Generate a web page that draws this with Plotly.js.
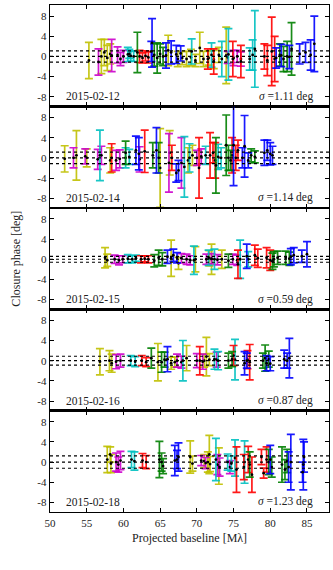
<!DOCTYPE html>
<html><head><meta charset="utf-8">
<script src="https://cdn.plot.ly/plotly-3.0.1.min.js"></script>
<style>html,body{margin:0;padding:0;background:#fff}#chart{width:333px;height:570px}</style>
</head><body><div id="chart"></div>
<script>
// Panel labels and scatter (sigma) of the closure phases
const DATES = ["2015-02-12","2015-02-14","2015-02-15","2015-02-16","2015-02-18"];
const SIGMA = [1.11, 1.14, 0.59, 0.87, 1.23];
const XTICKS = [50,55,60,65,70,75,80,85];
const YTICKS = [-8,-4,0,4,8];
const COLOR_CODES = ["Y","M","C","R","G","B"];

// ---- 2015-02-12 ----
const X1 = [55.3,57.0,57.4,57.8,58.2,66.1,67.4,68.0,68.6,69.2,69.8,70.4,70.9,71.6,72.3,73.0,74.0,
  56.6,58.4,59.2,59.6,60.0,74.2,75.0,75.5,76.0,
  60.6,60.8,61.0,61.4,69.3,72.0,73.4,74.3,77.2,77.6,77.9,
  62.2,62.6,63.0,63.4,71.5,72.3,74.9,76.0,79.2,79.6,80.2,80.6,
  61.9,64.2,64.6,65.0,65.4,81.3,81.8,82.3,82.9,
  63.8,63.9,65.8,66.5,67.2,67.8,80.8,81.5,82.6,84.0,84.8,85.5,86.0];
const Y1 = [-0.8,0.0,0.8,-0.3,0.5,1.2,-0.5,-0.3,-0.5,-0.2,-0.8,1.7,-0.5,-0.3,-0.6,0.3,0.2,
  -1.1,0.2,0.3,-0.5,0.0,-0.2,-0.3,0.0,-0.5,
  0.4,0.5,0.1,0.0,1.0,0.3,-0.5,0.4,-0.5,0.3,1.5,
  0.0,-0.3,0.1,-0.2,-0.5,-1.0,-0.5,-1.0,0.0,-0.8,1.0,-0.5,
  0.8,0.3,-0.3,0.5,0.0,0.3,-0.5,0.0,1.5,
  1.0,2.7,0.2,0.8,0.4,0.6,-0.3,0.2,-0.1,0.5,0.8,0.3,2.5];
const E1 = [3.6,3.4,2.6,2.5,2.0,3.0,1.5,1.3,1.5,1.6,1.2,3.1,1.5,1.4,1.8,1.5,5.6,
  2.6,3.2,1.6,1.3,1.2,1.2,1.5,1.2,1.4,
  1.4,0.9,1.0,1.0,2.5,2.4,3.5,5.1,2.2,3.0,7.6,
  1.2,1.0,1.0,1.1,2.0,2.5,3.5,3.2,2.5,3.0,6.8,4.5,
  4.0,2.2,3.0,2.0,1.8,2.2,2.5,3.0,5.2,
  2.0,4.8,2.5,2.3,1.8,1.5,2.0,2.2,2.3,2.0,2.0,3.0,5.5];
const C1 = "YYYYY YYYYY YYYYY YY MMMMM MMMM CCCCC CCCCC C RRRRR RRRRR RR GGGGG GGGG BBBBB BBBBB BBB";

// ---- 2015-02-14 ----
const X2 = [52.0,53.6,55.0,58.2,65.0,66.3,68.8,69.4,
  53.2,54.8,56.5,57.0,59.0,59.5,62.2,66.2,67.9,70.0,70.6,
  56.8,60.3,60.8,68.3,69.0,71.2,72.9,73.3,
  58.4,62.9,66.6,70.3,71.8,72.2,72.5,74.8,75.3,75.6,
  60.3,64.0,64.8,72.6,74.0,74.3,74.6,77.4,77.9,
  61.7,62.1,64.5,67.2,67.5,75.0,76.2,76.5,77.0,79.2,79.6,80.0,80.3];
const Y2 = [-0.2,0.5,0.0,-0.5,-2.0,1.0,-0.5,0.5,
  0.0,0.3,-0.3,0.5,-0.5,-0.2,-0.3,-1.0,-1.0,0.0,0.3,
  0.5,0.0,0.2,-1.8,0.0,0.5,0.2,0.0,
  0.0,1.3,0.0,-2.0,0.5,1.0,-0.5,0.5,0.0,1.5,
  1.0,0.5,0.0,-1.5,2.5,0.0,-0.5,0.5,0.2,
  1.5,0.8,1.5,-3.0,-2.5,2.5,0.0,2.3,-0.5,1.0,1.5,0.8,0.5];
const E2 = [2.6,4.9,1.8,2.5,7.8,4.4,2.5,2.0,
  2.0,1.5,2.0,1.8,2.0,1.8,2.5,5.8,5.0,1.5,1.5,
  5.0,2.0,1.5,6.0,2.8,1.8,2.5,2.0,
  2.8,4.2,2.5,6.0,4.5,2.0,3.5,3.5,2.5,2.0,
  2.3,2.5,3.0,5.5,6.0,2.5,2.0,1.3,1.2,
  2.8,3.2,4.5,1.8,2.0,8.0,2.0,6.1,1.5,2.5,2.0,2.2,1.8];
const C2 = "YYYYY YYY MMMMM MMMMM M CCCCC CCC RRRRR RRRRR GGGGG GGGG BBBBB BBBBB BBB";

// ---- 2015-02-15 ----
const X3 = [57.5,57.8,66.5,67.5,69.8,71.7,72.0,73.4,
  58.8,59.4,59.9,67.9,68.6,69.1,71.3,72.0,72.8,74.9,75.5,
  60.6,61.2,61.7,69.6,71.6,72.4,75.9,77.0,
  62.4,62.9,63.4,75.6,77.9,78.3,79.5,80.0,
  64.2,64.8,65.3,74.3,80.3,80.5,81.0,82.1,82.6,
  66.0,66.8,67.3,76.8,82.8,83.2,84.3,85.0];
const Y3 = [0.3,-0.2,0.2,-0.8,0.0,0.2,0.0,0.0,
  0.0,-0.2,0.0,0.2,0.0,-0.2,0.0,0.1,-0.1,0.0,-0.2,
  0.1,0.0,0.2,-0.2,0.3,0.0,0.0,0.0,
  0.0,0.1,0.0,-1.0,0.8,0.2,0.3,-0.2,
  -0.3,0.3,0.0,-0.3,-0.4,0.0,0.3,0.3,0.1,
  0.5,0.8,0.3,0.6,0.5,0.8,0.6,1.0];
const E3 = [2.0,1.2,3.6,1.2,2.5,1.5,3.0,1.8,
  0.8,0.9,0.7,0.9,1.0,0.9,1.0,1.0,1.0,1.0,1.0,
  0.8,0.7,0.6,2.8,1.5,2.0,3.8,1.5,
  0.7,0.6,0.7,2.8,2.0,1.8,2.0,2.0,
  1.2,1.5,1.3,1.3,1.6,1.5,1.3,1.3,1.3,
  1.3,1.2,1.0,2.4,1.6,1.5,1.2,2.5];
const C3 = "YYYYY YYY MMMMM MMMMM M CCCCC CCC RRRRR RRR GGGGG GGGG BBBBB BBB";

// ---- 2015-02-16 ----
const X4 = [56.8,58.1,58.4,64.7,66.5,67.0,68.6,71.0,71.3,71.7,
  59.0,59.6,67.3,67.9,70.0,70.8,72.7,
  61.0,61.6,68.1,72.4,72.9,75.2,
  62.5,63.1,70.4,75.0,76.9,77.2,
  63.8,65.2,65.6,74.3,74.8,79.0,79.3,79.8,
  66.0,76.5,76.8,79.5,80.0,81.9,82.3,82.6];
const Y4 = [-0.2,0.0,-0.5,-0.3,-0.5,-0.3,0.5,0.0,0.8,0.2,
  -0.2,0.0,0.0,-0.3,0.0,-0.2,0.2,
  0.0,-0.2,0.0,0.3,0.0,0.2,
  0.0,-0.3,0.0,1.0,0.2,-0.3,
  0.5,-0.3,0.2,0.0,0.3,0.0,0.5,0.3,
  0.3,-0.5,0.0,-0.5,-0.6,0.3,0.0,0.5];
const E4 = [2.6,2.0,1.8,3.7,1.2,1.0,2.5,1.3,3.8,1.2,
  1.4,1.3,1.3,1.2,1.4,1.5,1.5,
  1.0,1.0,4.0,2.0,1.8,4.0,
  1.0,0.9,2.8,2.0,1.8,3.5,
  2.0,2.0,1.5,1.5,1.5,1.5,2.6,1.6,
  2.5,2.3,1.5,1.5,1.4,1.8,1.5,3.9];
const C4 = "YYYYY YYYYY MMMMM MM CCCCC C RRRRR R GGGGG GGG BBBBB BBB";

// ---- 2015-02-18 ----
const X5 = [57.8,58.2,58.3,69.1,69.4,71.0,71.5,71.7,71.8,73.0,
  59.0,59.3,59.6,70.6,71.2,72.8,73.1,74.5,
  61.1,61.5,72.6,74.2,74.7,75.2,76.5,
  62.6,63.1,75.4,76.4,77.0,77.5,78.8,79.1,79.5,
  64.9,65.2,65.4,77.2,79.8,80.2,81.6,82.0,82.3,
  67.0,67.3,67.5,80.0,82.5,82.8,84.4,84.5,84.6];
const Y5 = [0.5,1.5,-0.3,1.0,-0.3,0.2,0.0,1.5,-0.4,-0.8,
  0.0,-0.5,0.3,0.3,-0.2,-0.5,-1.0,-1.0,
  0.5,0.2,0.5,0.0,-0.3,0.8,0.0,
  0.3,0.0,-1.5,-1.0,0.5,-2.5,1.0,-2.2,0.5,
  0.5,0.0,-0.8,-0.5,0.0,-1.0,-0.5,-1.5,0.2,
  0.3,0.5,1.0,0.5,-1.0,0.0,-2.0,-0.5,1.0];
const E5 = [2.6,1.5,1.8,3.2,1.5,1.3,2.0,3.8,1.5,3.6,
  1.8,1.5,1.8,1.0,1.1,2.0,1.8,1.3,
  1.6,1.8,4.2,1.6,1.5,3.6,4.2,
  1.4,1.3,4.5,2.5,2.6,3.5,1.5,1.0,2.5,
  3.6,1.8,1.5,2.5,2.5,2.0,3.5,2.0,2.3,
  3.0,1.8,2.8,2.8,3.0,5.5,2.0,5.0,3.0];
const C5 = "YYYYY YYYYY MMMMM MMM CCCCC CC RRRRR RRRR GGGGG GGGG BBBBB BBBB";

const PANELS = [[X1,Y1,E1,C1],[X2,Y2,E2,C2],[X3,Y3,E3,C3],[X4,Y4,E4,C4],[X5,Y5,E5,C5]];
const COLORS = {Y:"rgba(192,192,0,0.9)",M:"rgba(204,0,204,0.9)",C:"rgba(0,192,192,0.9)",
                R:"rgba(255,0,0,0.9)",G:"rgba(0,128,0,0.9)",B:"rgba(0,0,255,0.9)"};

const FONT = "Liberation Serif, DejaVu Serif, serif";
const traces = [];
const layout = {
  width:333, height:570, showlegend:false,
  margin:{l:50, r:4, t:5, b:58},
  paper_bgcolor:"#fff", plot_bgcolor:"#fff",
  font:{family:FONT, size:11, color:"#222"},
  shapes:[], annotations:[]
};
const N = PANELS.length;
PANELS.forEach((p, i) => {
  const [X, Y, E, Cs] = p;
  const codes = Cs.replace(/ /g, "").split("");
  if (codes.length !== X.length || Y.length !== X.length || E.length !== X.length)
    console.error("length mismatch panel", i, codes.length, X.length, Y.length, E.length);
  const k = i + 1;
  const xa = "x" + (k === 1 ? "" : k), ya = "y" + (k === 1 ? "" : k);
  COLOR_CODES.forEach(cc => {
    const idx = codes.map((c, j) => c === cc ? j : -1).filter(j => j >= 0);
    traces.push({
      type:"scatter", mode:"markers", xaxis:xa, yaxis:ya,
      x: idx.map(j => X[j]), y: idx.map(j => Y[j]),
      error_y:{type:"data", array: idx.map(j => E[j]), visible:true,
               color: COLORS[cc], thickness:1.7, width:4},
      marker:{color:"#000", size:2.8},
      hoverinfo:"skip"
    });
  });
  const top = 1 - i / N, bot = 1 - (i + 1) / N;
  const xkey = "xaxis" + (k === 1 ? "" : k), ykey = "yaxis" + (k === 1 ? "" : k);
  layout[xkey] = {
    anchor: ya, range:[50, 88], domain:[0, 1],
    tickvals: XTICKS, ticktext: XTICKS.map(String),
    showticklabels: k === N, ticks:"inside", ticklen:4, tickwidth:1, tickcolor:"#000",
    mirror:"ticks", showline:true, linecolor:"#000", linewidth:1.3,
    showgrid:false, zeroline:false, tickfont:{family:FONT, size:11, color:"#222"}
  };
  layout[ykey] = {
    anchor: xa, range:[-9.9, 10.2], domain:[bot, top],
    tickvals: YTICKS, ticktext: YTICKS.map(String),
    ticks:"inside", ticklen:4, tickwidth:1, tickcolor:"#000",
    mirror:"ticks", showline:true, linecolor:"#000", linewidth:1.3,
    showgrid:false, zeroline:false, tickfont:{family:FONT, size:11, color:"#222"}
  };
  [-SIGMA[i], 0, SIGMA[i]].forEach(v => {
    layout.shapes.push({type:"line", xref: xa + " domain", yref: ya,
      x0:0, x1:1, y0:v, y1:v, layer:"above",
      line:{color:"#000", width:1.2, dash:"dot"}});
  });
  layout.annotations.push({xref: xa + " domain", yref: ya, x:0.05, y:-7.9,
    xanchor:"left", yanchor:"middle", showarrow:false, text: DATES[i],
    font:{family:FONT, size:11.5, color:"#222"}});
  layout.annotations.push({xref: xa + " domain", yref: ya, x:0.95, y:-7.9,
    xanchor:"right", yanchor:"middle", showarrow:false,
    text: "<i>σ</i> =" + SIGMA[i].toFixed(2) + " deg",
    font:{family:FONT, size:11.5, color:"#222"}});
});
layout.annotations.push({xref:"paper", yref:"paper", x:-0.125, y:0.5, textangle:-90,
  xanchor:"center", yanchor:"middle", showarrow:false, text:"Closure phase [deg]",
  font:{family:FONT, size:12, color:"#222"}});
layout.annotations.push({xref:"paper", yref:"paper", x:0.5, y:-0.052,
  xanchor:"center", yanchor:"middle", showarrow:false, text:"Projected baseline [Mλ]",
  font:{family:FONT, size:12, color:"#222"}});

Plotly.newPlot("chart", traces, layout, {staticPlot:true, displayModeBar:false});
</script></body></html>
